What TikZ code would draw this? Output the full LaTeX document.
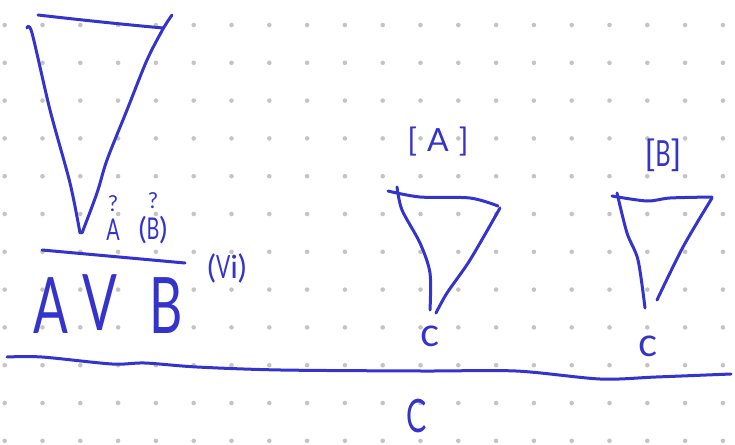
\documentclass[tikz,border=0pt]{standalone}
\usepackage{amsmath,amssymb}
\usepackage{fontspec}
\setmainfont{Lato}
\usepackage{xcolor}
\usepackage{tikz}
\usetikzlibrary{positioning}
\definecolor{penblue}{RGB}{52,52,204}
\definecolor{griddot}{RGB}{196,196,196}
\newcommand{\slim}[1]{\scalebox{0.66}[1]{#1}}

\begin{document}
\begin{tikzpicture}[x=1pt,y=-1pt,
  ink/.style={draw=penblue,line width=3pt,line cap=round,line join=round},
  hand/.style={text=penblue,inner sep=0pt,font=\fontsize{#1}{#1}\selectfont},
  hand/.default=30]
\useasboundingbox (0,0) rectangle (735,444);
% dotted paper
\foreach \i in {0,...,19}
  \foreach \j in {0,...,11}
    \fill[griddot](4.7+37.8*\i,25+37.8*\j)circle[radius=2.3pt];
% big triangle on the left
\draw[ink](38,15)..controls(90,21)and(130,25)..(163,28);
\draw[ink]plot[smooth]coordinates{(172,15)(163,29)(147,60)(127,110)(107,160)(97,193)(82,233)};
\draw[ink]plot[smooth]coordinates{(27,28)(32,33)(50,110)(70,183)(80,233)};
\node[hand=30](premA)at(113,230){\slim{A}};
\node[hand=30](premB)at(153,230){(\slim{B})};
\node[hand=22,above=7pt of premA](askA){?};
\node[hand=22,above=7pt of premB](askB){?};
\draw[ink](42,250)--(185,263);
\node[hand=78](concA)at(51,306){\slim{A}};
\node[hand=78](concOr)at(100,303){\slim{V}};
\node[hand=78](concB)at(166,306){\slim{B}};
\node[hand=32](ruleName)at(227,268){(\slim{V}i)};
% triangle under [A]
\node[hand=32](labA)at(438,142){[\hspace{10pt}A\hspace{10pt}]};
\draw[ink]plot[smooth]coordinates{(388,191)(420,197)(470,198)(498,206)};
\draw[ink]plot[smooth]coordinates{(397,187)(402,210)(420,243)(430,273)(430,310)};
\draw[ink]plot[smooth]coordinates{(500,208)(470,260)(447,293)(436,313)};
\node[hand=40](cA)at(430,336){c};
% triangle under [B]
\node[hand=36](labB)at(663,155){[\slim{B}]};
\draw[ink]plot[smooth]coordinates{(612,196)(647,201)(670,198)(712,197)};
\draw[ink]plot[smooth]coordinates{(617,193)(627,233)(638,260)(645,308)};
\draw[ink]plot[smooth]coordinates{(712,198)(683,247)(657,300)};
\node[hand=40](cB)at(648,346){c};
% long bar
\draw[ink]plot[smooth]coordinates{(7,357)(42,357)(112,364)(145,363)(197,367)(281,370)(422,371)(516,371)(600,379)(656,377)(731,374)};
\node[hand=46](concC)at(417,416){\slim{C}};
\end{tikzpicture}
\end{document}
